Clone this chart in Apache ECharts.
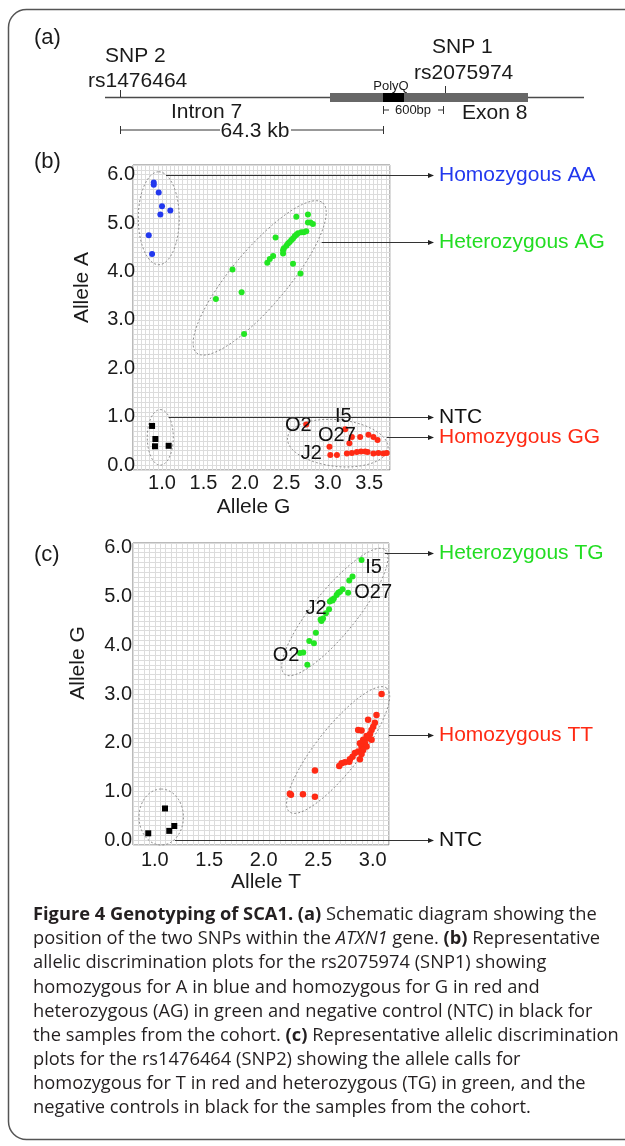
<!DOCTYPE html>
<html>
<head>
<meta charset="utf-8">
<script src="https://cdn.jsdelivr.net/npm/echarts@6/dist/echarts.min.js"></script>
<style>
html, body { margin: 0; padding: 0; background: #fff; }
#main { width: 625px; height: 1146px; }
</style>
</head>
<body>
<div id="main"></div>
<script>
// ---- (b) rs2075974 (SNP1): Allele G (x) vs Allele A (y)
var snp1AA = [[0.90,5.84],[0.90,5.79],[0.96,5.63],[1.00,5.35],[1.10,5.26],[0.98,5.18],[0.84,4.75],[0.88,4.36]];
var snp1AG = [[2.62,5.13],[2.76,5.18],[2.76,5.01],[2.79,5.01],[2.82,4.98],[2.37,4.70],
  [2.74,4.83],[2.71,4.81],[2.68,4.81],[2.64,4.79],[2.62,4.76],[2.60,4.73],[2.58,4.68],[2.56,4.65],
  [2.54,4.61],[2.52,4.58],[2.50,4.53],[2.47,4.48],[2.46,4.44],[2.46,4.37],[2.34,4.32],[2.30,4.26],
  [2.27,4.18],[2.58,4.16],[2.67,3.96],[1.85,4.04],[1.96,3.57],[1.65,3.43],[1.99,2.71]];
var snp1GG = [[2.74,0.84],[3.21,0.74],[3.26,0.45],[3.29,0.58],[3.39,0.58],[3.49,0.63],[3.55,0.58],
  [3.60,0.52],[3.02,0.38],[3.03,0.21],[3.11,0.21],[3.23,0.24],[3.29,0.25],[3.35,0.27],[3.40,0.28],
  [3.45,0.28],[3.48,0.27],[3.55,0.24],[3.61,0.25],[3.67,0.24],[3.71,0.25]];
var snp1NTC = [[0.88,0.81],[0.92,0.54],[0.915,0.39],[1.08,0.40]];
var snp1Tags = {0: 'O2', 1: 'I5', 3: 'O27', 9: 'J2'};
// ellipses: centre, end of first axis, end of second axis (data units)
var snp1Ellipses = [
  [0.961,5.10, 0.961,6.06, 1.208,5.10],
  [2.178,3.868, 2.938,5.419, 2.437,3.496],
  [0.979,0.574, 0.979,1.148, 1.136,0.574],
  [3.12,0.455, 3.726,0.346, 3.149,0.934]
];
var snp1Callouts = [[1.048,6.0],[2.926,4.61],[1.08,1.0],[3.71,0.585]];
var snp1CalloutText = ['Homozygous AA','Heterozygous AG','NTC','Homozygous GG'];

// ---- (c) rs1476464 (SNP2): Allele T (x) vs Allele G (y)
var snp2TG = [[2.898,5.75],[2.815,5.41],[2.785,5.33],[2.775,5.08],[2.724,5.15],[2.684,5.08],[2.669,5.03],
  [2.644,4.96],[2.622,4.93],[2.607,4.90],[2.632,4.92],[2.70,5.10],[2.60,4.74],[2.571,4.66],[2.545,4.55],
  [2.53,4.50],[2.522,4.53],[2.479,4.26],[2.418,4.09],[2.461,4.04],[2.363,3.85],[2.333,3.84],[2.40,3.60]];
var snp2TT = [[3.082,3.00],[3.035,2.57],[2.958,2.47],[3.02,2.41],[3.005,2.33],[2.99,2.26],[2.867,2.26],
  [2.898,2.25],[2.976,2.18],[2.944,2.14],[2.958,2.09],[2.913,2.06],[2.99,2.06],[2.929,1.99],[2.883,1.99],
  [2.898,1.92],[2.944,1.92],[2.913,1.85],[2.867,1.82],[2.898,1.77],[2.837,1.79],[2.815,1.71],[2.883,1.66],
  [2.791,1.66],[2.785,1.61],[2.745,1.60],[2.715,1.58],[2.693,1.52],[2.47,1.43],[2.25,0.93],[2.24,0.95],
  [2.36,0.94],[2.47,0.89]];
var snp2NTC = [[0.94,0.14],[1.094,0.65],[1.133,0.19],[1.179,0.29]];
var snp2Tags = {0: 'I5', 3: 'O27', 12: 'J2', 21: 'O2'};
var snp2Ellipses = [
  [1.059,0.474, 1.059,1.049, 1.263,0.474],
  [2.653,4.684, 3.115,5.961, 2.81,4.40],
  [2.683,1.850, 3.129,3.121, 2.842,1.571]
];
var snp2Callouts = [[3.111,5.895],[3.15,2.16],[1.185,0.0]];
var snp2CalloutText = ['Heterozygous TG','Homozygous TT','NTC'];

var xLabelsB = [1.0, 1.5, 2.0, 2.5, 3.0, 3.5];
var xLabelsC = [1.0, 1.5, 2.0, 2.5, 3.0];
var yLabels = [0, 1, 2, 3, 4, 5, 6];

var captionLines = [
  '{b|Figure 4 Genotyping of SCA1. (a)} Schematic diagram showing the',
  'position of the two SNPs within the {i|ATXN1} gene. {b|(b)} Representative',
  'allelic discrimination plots for the rs2075974 (SNP1) showing',
  'homozygous for A in blue and homozygous for G in red and',
  'heterozygous (AG) in green and negative control (NTC) in black for',
  'the samples from the cohort. {b|(c)} Representative allelic discrimination',
  'plots for the rs1476464 (SNP2) showing the allele calls for',
  'homozygous for T in red and heterozygous (TG) in green, and the',
  'negative controls in black for the samples from the cohort.'
];

var F = '"Liberation Sans", Arial, sans-serif';
var CF = '"Open Sans", sans-serif';
var CSIZE = 18.3;
var BLUE = '#2238ee', GREEN = '#22e622', RED = '#ff2a14', INK = '#1a1a1a';
var GRIDLINE = '#dcdcdc';
var calloutColors = {
  'Homozygous AA': '#2238ee', 'Heterozygous AG': '#22dd22', 'Homozygous GG': '#ff2a14',
  'Heterozygous TG': '#22dd22', 'Homozygous TT': '#ff2a14', 'NTC': '#111'
};
var tagOffsetB = {O2: [-8, 1], I5: [-2, -13], O27: [-15, -2], J2: [-19, -2]};
var tagOffsetC = {I5: [12, 7], O27: [25, 0], J2: [-13, -1], O2: [-14, 2]};
var ARROW_X = 434, TEXT_X = 439;

var chart = echarts.init(document.getElementById('main'));

function fmt(v) { return Number(v).toFixed(1); }

function xAxisFor(grid, min, max, labels, margin) {
  return {
    type: 'value', gridIndex: grid, min: min, max: max, interval: 0.05,
    axisLine: {show: false}, axisTick: {show: false},
    splitLine: {show: true, lineStyle: {color: GRIDLINE, width: 1}},
    axisLabel: {customValues: labels, formatter: fmt, fontFamily: F, fontSize: 20, color: INK, margin: margin}
  };
}
function yAxisFor(grid, min, max, margin) {
  return {
    type: 'value', gridIndex: grid, min: min, max: max, interval: 0.1,
    axisLine: {show: false}, axisTick: {show: false},
    splitLine: {show: true, lineStyle: {color: GRIDLINE, width: 1}},
    axisLabel: {customValues: yLabels, formatter: fmt, fontFamily: F, fontSize: 20, color: INK, margin: margin}
  };
}

function tagged(points, tags, offsets) {
  return points.map(function (p, i) {
    var t = tags[i];
    if (!t) return p;
    return {value: p, label: {show: true, formatter: t, position: 'inside', offset: offsets[t],
      fontFamily: F, fontSize: 20, color: '#111'}};
  });
}

function dots(grid, data, color, symbol, size) {
  return {type: 'scatter', xAxisIndex: grid, yAxisIndex: grid, data: data, symbol: symbol,
    symbolSize: size, itemStyle: {color: color, opacity: 1}, z: 3, silent: true};
}

function ellipses(grid, list) {
  return {
    type: 'custom', xAxisIndex: grid, yAxisIndex: grid, data: list, clip: false, silent: true, z: 2,
    renderItem: function (params, api) {
      var c = api.coord([api.value(0), api.value(1)]);
      var a = api.coord([api.value(2), api.value(3)]);
      var b = api.coord([api.value(4), api.value(5)]);
      var pts = [];
      for (var k = 0; k <= 90; k++) {
        var t = k / 90 * 2 * Math.PI;
        pts.push([c[0] + (a[0] - c[0]) * Math.cos(t) + (b[0] - c[0]) * Math.sin(t),
                  c[1] + (a[1] - c[1]) * Math.cos(t) + (b[1] - c[1]) * Math.sin(t)]);
      }
      return {type: 'polygon', shape: {points: pts},
        style: {fill: 'none', stroke: '#8c8c8c', lineWidth: 1, lineDash: [2, 2]}};
    }
  };
}

function callouts(grid, list, texts) {
  return {
    type: 'custom', xAxisIndex: grid, yAxisIndex: grid, data: list, clip: false, silent: true, z: 4,
    renderItem: function (params, api) {
      var p = api.coord([api.value(0), api.value(1)]);
      var y = Math.round(p[1]) + 0.5;
      var txt = texts[params.dataIndex];
      return {type: 'group', children: [
        {type: 'line', shape: {x1: p[0], y1: y, x2: ARROW_X - 4, y2: y}, style: {stroke: '#333', lineWidth: 1}},
        {type: 'polygon', shape: {points: [[ARROW_X, y], [ARROW_X - 6, y - 2.5], [ARROW_X - 6, y + 2.5]]}, style: {fill: '#222'}},
        {type: 'text', style: {text: txt, x: TEXT_X, y: y, verticalAlign: 'middle', fill: calloutColors[txt],
          font: '21px ' + F}}
      ]};
    }
  };
}

// schematic (a), panel letters, caption, frame
var graphics = [
  {type: 'rect', shape: {x: 8.5, y: 9.5, width: 700, height: 1130, r: 18}, style: {fill: 'none', stroke: '#555', lineWidth: 1.5}, silent: true},
  {type: 'text', x: 34, y: 38, style: {text: '(a)', font: '22px ' + F, fill: INK, verticalAlign: 'middle'}},
  {type: 'text', x: 34, y: 162, style: {text: '(b)', font: '22px ' + F, fill: INK, verticalAlign: 'middle'}},
  {type: 'text', x: 34, y: 555, style: {text: '(c)', font: '22px ' + F, fill: INK, verticalAlign: 'middle'}},
  // gene line
  {type: 'line', shape: {x1: 105, y1: 97.5, x2: 584, y2: 97.5}, style: {stroke: '#4a4a4a', lineWidth: 1.5}},
  {type: 'rect', shape: {x: 330, y: 93, width: 198, height: 9}, style: {fill: '#676767'}},
  {type: 'rect', shape: {x: 383, y: 93, width: 21, height: 9}, style: {fill: '#000'}},
  {type: 'line', shape: {x1: 120.5, y1: 90, x2: 120.5, y2: 97}, style: {stroke: '#333', lineWidth: 1}},
  {type: 'line', shape: {x1: 445.5, y1: 86, x2: 445.5, y2: 93}, style: {stroke: '#333', lineWidth: 1}},
  {type: 'text', x: 105, y: 56, style: {text: 'SNP 2', font: '21px ' + F, fill: INK, verticalAlign: 'middle'}},
  {type: 'text', x: 88, y: 81, style: {text: 'rs1476464', font: '21px ' + F, fill: INK, verticalAlign: 'middle'}},
  {type: 'text', x: 432, y: 47, style: {text: 'SNP 1', font: '21px ' + F, fill: INK, verticalAlign: 'middle'}},
  {type: 'text', x: 414, y: 73, style: {text: 'rs2075974', font: '21px ' + F, fill: INK, verticalAlign: 'middle'}},
  {type: 'text', x: 391, y: 86, style: {text: 'PolyQ', font: '13px ' + F, fill: INK, align: 'center', verticalAlign: 'middle'}},
  {type: 'text', x: 171, y: 112, style: {text: 'Intron 7', font: '21px ' + F, fill: INK, verticalAlign: 'middle'}},
  {type: 'text', x: 462, y: 113, style: {text: 'Exon 8', font: '21px ' + F, fill: INK, verticalAlign: 'middle'}},
  {type: 'text', x: 413, y: 110, style: {text: '600bp', font: '13px ' + F, fill: INK, align: 'center', verticalAlign: 'middle'}},
  {type: 'polyline', shape: {points: [[383.5, 106], [383.5, 114], [383.5, 110], [389, 110]]}, style: {stroke: '#333', lineWidth: 1, fill: 'none'}},
  {type: 'polyline', shape: {points: [[438, 110], [443.5, 110], [443.5, 106], [443.5, 114]]}, style: {stroke: '#333', lineWidth: 1, fill: 'none'}},
  {type: 'polyline', shape: {points: [[120.5, 126], [120.5, 134], [120.5, 130], [220, 130]]}, style: {stroke: '#333', lineWidth: 1, fill: 'none'}},
  {type: 'polyline', shape: {points: [[291, 130], [383.5, 130], [383.5, 126], [383.5, 134]]}, style: {stroke: '#333', lineWidth: 1, fill: 'none'}},
  {type: 'text', x: 255, y: 131, style: {text: '64.3 kb', font: '21px ' + F, fill: INK, align: 'center', verticalAlign: 'middle'}}
];
captionLines.forEach(function (line, i) {
  graphics.push({type: 'text', x: 33, y: 915 + i * 24.1, style: {
    text: line, font: CSIZE + 'px ' + CF, fill: '#231f20', verticalAlign: 'middle',
    rich: {
      b: {fontFamily: CF, fontSize: CSIZE, fontWeight: 'bold', fill: '#231f20'},
      i: {fontFamily: CF, fontSize: CSIZE, fontStyle: 'italic', fill: '#231f20'}
    }
  }});
});

chart.setOption({
  animation: false,
  backgroundColor: '#fff',
  grid: [
    {left: 133, top: 165, width: 257, height: 305, show: true, borderColor: '#777', borderWidth: 1, containLabel: false},
    {left: 133, top: 543, width: 256, height: 302, show: true, borderColor: '#777', borderWidth: 1, containLabel: false}
  ],
  xAxis: [
    Object.assign(xAxisFor(0, 0.65, 3.75, xLabelsB, 3), {name: 'Allele G', nameLocation: 'middle', nameGap: 27,
      nameTextStyle: {fontFamily: F, fontSize: 21, color: INK, padding: [0, 16, 0, 0]}}),
    Object.assign(xAxisFor(1, 0.8, 3.15, xLabelsC, 5), {name: 'Allele T', nameLocation: 'middle', nameGap: 27,
      nameTextStyle: {fontFamily: F, fontSize: 21, color: INK, padding: [0, 0, 0, 10]}})
  ],
  yAxis: [
    Object.assign(yAxisFor(0, -0.1, 6.2, -2), {name: 'Allele A', nameLocation: 'middle', nameGap: 40,
      nameTextStyle: {fontFamily: F, fontSize: 21, color: INK, padding: [0, 0, 0, 60]}}),
    Object.assign(yAxisFor(1, -0.1, 6.1, 1), {name: 'Allele G', nameLocation: 'middle', nameGap: 44,
      nameTextStyle: {fontFamily: F, fontSize: 21, color: INK, padding: [0, 0, 0, 62]}})
  ],
  graphic: graphics,
  series: [
    ellipses(0, snp1Ellipses),
    dots(0, snp1AA, BLUE, 'circle', 6),
    dots(0, snp1AG, GREEN, 'circle', 6),
    dots(0, tagged(snp1GG, snp1Tags, tagOffsetB), RED, 'circle', 6),
    dots(0, snp1NTC, '#000', 'rect', 6),
    callouts(0, snp1Callouts, snp1CalloutText),
    ellipses(1, snp2Ellipses),
    dots(1, tagged(snp2TG, snp2Tags, tagOffsetC), GREEN, 'circle', 6),
    dots(1, snp2TT, RED, 'circle', 6.5),
    dots(1, snp2NTC, '#000', 'rect', 6),
    callouts(1, snp2Callouts, snp2CalloutText)
  ]
});
</script>
</body>
</html>
